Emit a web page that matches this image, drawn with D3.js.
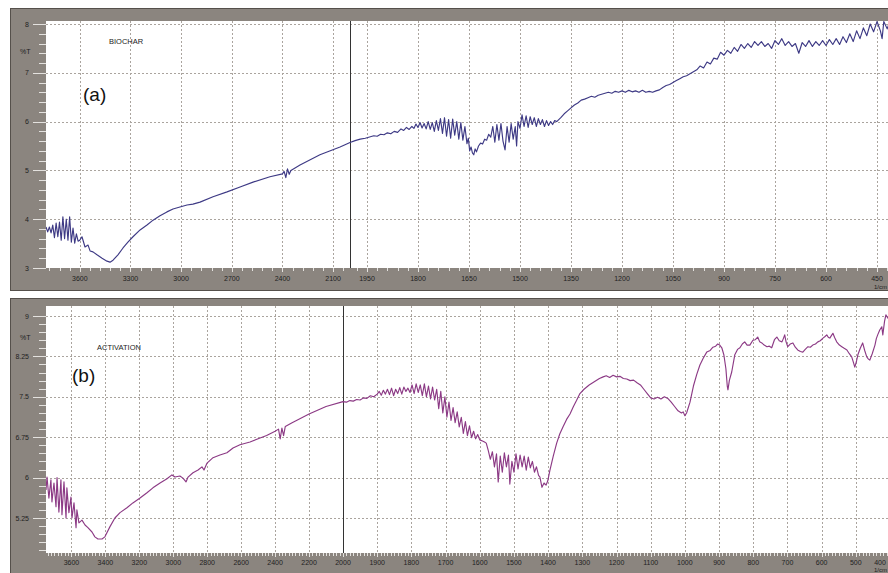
<!DOCTYPE html>
<html>
<head>
<meta charset="utf-8">
<script src="https://cdn.jsdelivr.net/npm/d3@7"></script>
<style>
  body { margin: 0; background: #fff; }
  svg { display: block; }
  text { font-family: "Liberation Sans", Arial, sans-serif; }
</style>
</head>
<body>
<svg id="chart" width="888" height="573"></svg>
<script>
// ---- FTIR spectrum (a): biochar, [wavenumber 1/cm, %T] ----
const biocharHigh = [
  [3800,3.84],[3790,3.74],[3780,3.84],[3770,3.72],[3760,3.88],[3750,3.62],[3740,3.92],[3730,3.64],
  [3720,3.94],[3710,3.57],[3700,4.05],[3690,3.60],[3680,4.00],[3670,3.57],[3660,4.05],[3650,3.53],
  [3640,3.82],[3630,3.51],[3620,3.70],[3610,3.55],[3600,3.57],[3587,3.64],[3569,3.43],[3551,3.47],
  [3539,3.35],[3522,3.33],[3498,3.27],[3468,3.20],[3439,3.14],[3421,3.12],[3403,3.16],[3374,3.27],
  [3344,3.41],[3315,3.53],[3285,3.64],[3243,3.78],[3202,3.88],[3166,3.98],[3125,4.07],[3084,4.15],
  [3048,4.21],[3007,4.25],[2965,4.29],[2930,4.31],[2888,4.35],[2811,4.46],[2728,4.56],[2651,4.66],
  [2574,4.76],[2474,4.87],[2400,4.93],[2390,4.98],[2380,4.85],[2370,5.03],[2360,4.92],[2350,5.00],
  [2296,5.11],[2178,5.32],[2059,5.48],[2000,5.57]
];
const biocharMid = [
  [1985,5.61],[1970,5.64],[1955,5.66],[1940,5.69],[1930,5.71],[1920,5.70],[1910,5.74],[1900,5.73],
  [1890,5.77],[1880,5.75],[1870,5.80],[1860,5.78],[1850,5.85],[1842,5.82],[1834,5.88],[1826,5.84],
  [1818,5.90],[1812,5.86],[1806,5.95],[1800,5.88],[1794,5.98],[1788,5.87],[1782,5.96],[1776,5.85],
  [1770,6.00],[1764,5.84],[1758,5.98],[1752,5.80],[1746,6.02],[1740,5.82],[1734,6.06],[1728,5.76],
  [1722,6.08],[1716,5.70],[1710,6.04],[1704,5.66],[1698,6.05],[1692,5.72],[1686,6.00],[1680,5.64],
  [1674,5.98],[1668,5.62],[1662,5.90],[1656,5.55],[1652,5.66],[1648,5.40],[1644,5.48],[1640,5.36],
  [1636,5.32],[1632,5.44],[1628,5.38],[1622,5.50],[1616,5.56],[1610,5.54],[1604,5.64],[1598,5.62],
  [1592,5.74],[1586,5.68],[1580,5.90],[1574,5.58],[1568,5.94],[1562,5.62],[1556,5.96],[1550,5.60],
  [1544,5.42],[1538,5.90],[1532,5.58],[1526,5.96],[1520,5.64],[1514,5.90],[1510,5.50],[1506,6.00],
  [1500,5.86],[1494,6.14],[1488,5.90],[1482,6.12],[1476,5.88],[1470,6.10],[1464,5.94],[1458,6.08],
  [1452,5.90],[1446,6.06],[1440,5.94],[1434,6.04],[1428,5.90],[1422,6.02],[1416,5.92],[1410,6.00],
  [1404,5.94],[1398,6.02],[1392,6.00]
];
const biocharLow = [
  [1380,6.08],[1370,6.16],[1360,6.22],[1350,6.28],[1340,6.34],[1330,6.38],[1320,6.44],[1310,6.46],
  [1300,6.49],[1290,6.52],[1280,6.50],[1270,6.54],[1260,6.56],[1250,6.58],[1240,6.60],[1230,6.58],
  [1220,6.62],[1210,6.60],[1200,6.63],[1190,6.60],[1180,6.64],[1170,6.61],[1160,6.63],[1150,6.60],
  [1140,6.64],[1130,6.60],[1120,6.62],[1110,6.60],[1100,6.63],[1090,6.65],[1080,6.70],[1070,6.74],
  [1060,6.76],[1050,6.80],[1040,6.84],[1030,6.88],[1020,6.92],[1010,6.94],[1000,6.98],[990,7.02],
  [980,7.06],[970,7.14],[960,7.10],[950,7.22],[940,7.18],[930,7.30],[920,7.28],[910,7.42],
  [900,7.36],[890,7.46],[880,7.40],[870,7.52],[860,7.44],[850,7.58],[840,7.50],[830,7.60],
  [820,7.52],[810,7.64],[800,7.56],[790,7.64],[780,7.54],[770,7.60],[760,7.50],[750,7.66],
  [740,7.58],[730,7.70],[720,7.56],[710,7.64],[700,7.54],[690,7.60],[680,7.40],[670,7.62],
  [660,7.54],[650,7.66],[640,7.54],[630,7.64],[620,7.56],[610,7.66],[600,7.56],[590,7.68],
  [580,7.58],[570,7.70],[560,7.58],[550,7.74],[540,7.62],[530,7.80],[520,7.64],[510,7.86],
  [500,7.70],[490,7.92],[480,7.76],[470,8.00],[460,7.84],[450,8.05],[440,7.86],[435,7.70],
  [430,8.05],[420,7.90],[410,8.10],[400,8.02]
];

// ---- FTIR spectrum (b): activated sample, [wavenumber 1/cm, %T] ----
const activationHigh = [
  [3750,5.77],[3744,6.01],[3733,5.62],[3721,5.96],[3715,5.55],[3703,5.90],[3691,5.46],[3685,6.00],
  [3674,5.36],[3662,5.96],[3656,5.31],[3644,5.92],[3632,5.25],[3627,5.81],[3615,5.35],[3603,5.64],
  [3597,5.25],[3585,5.53],[3573,5.07],[3568,5.40],[3556,5.16],[3538,5.21],[3520,5.12],[3503,5.07],
  [3479,4.99],[3462,4.90],[3444,4.86],[3420,4.86],[3403,4.90],[3373,5.09],[3344,5.25],[3314,5.35],
  [3273,5.44],[3238,5.53],[3196,5.62],[3155,5.72],[3120,5.81],[3078,5.90],[3037,5.98],[3008,6.05],
  [2990,6.01],[2961,6.03],[2943,5.99],[2925,5.92],[2913,6.01],[2884,6.09],[2854,6.14],[2831,6.20],
  [2819,6.14],[2801,6.27],[2766,6.37],[2725,6.42],[2684,6.46],[2648,6.55],[2607,6.61],[2548,6.66],
  [2500,6.72],[2450,6.78],[2400,6.86],[2380,6.90],[2370,6.72],[2360,6.92],[2350,6.78],[2340,6.95],
  [2300,7.02],[2200,7.18],[2100,7.32],[2000,7.41]
];
const activationMid = [
  [1990,7.40],[1980,7.43],[1970,7.42],[1960,7.45],[1950,7.44],[1940,7.48],[1930,7.47],[1920,7.52],
  [1910,7.50],[1900,7.55],[1894,7.60],[1888,7.53],[1882,7.62],[1876,7.55],[1870,7.64],[1864,7.54],
  [1858,7.66],[1852,7.52],[1846,7.64],[1840,7.56],[1834,7.67],[1828,7.55],[1822,7.68],[1816,7.60],
  [1810,7.66],[1804,7.58],[1798,7.72],[1792,7.56],[1786,7.74],[1780,7.58],[1774,7.72],[1768,7.52],
  [1762,7.74],[1756,7.50],[1750,7.70],[1744,7.46],[1738,7.68],[1732,7.44],[1726,7.64],[1720,7.28],
  [1714,7.60],[1708,7.20],[1702,7.50],[1696,7.12],[1690,7.40],[1684,7.06],[1678,7.30],[1672,7.02],
  [1666,7.22],[1660,6.94],[1654,7.12],[1648,6.82],[1642,7.04],[1636,6.78],[1630,6.96],[1624,6.74],
  [1618,6.86],[1612,6.72],[1606,6.80],[1600,6.70],[1592,6.68],[1586,6.66],[1581,6.64],[1575,6.50],
  [1569,6.34],[1563,6.48],[1557,6.20],[1551,6.44],[1546,5.92],[1540,6.40],[1534,6.10],[1528,6.46],
  [1522,6.20],[1516,6.42],[1512,5.88],[1506,6.30],[1500,6.10],[1494,6.44],[1488,6.16],[1482,6.42],
  [1476,6.20],[1470,6.40],[1464,6.14],[1458,6.38],[1452,6.18],[1446,6.30],[1440,6.10],[1434,6.20],
  [1428,6.04],[1424,6.01],[1418,5.82],[1412,5.90],[1406,5.86],[1401,5.94],[1395,6.13]
];
const activationLow = [
  [1385,6.40],[1375,6.64],[1366,6.81],[1356,6.95],[1346,7.08],[1336,7.18],[1326,7.32],[1317,7.43],
  [1307,7.56],[1295,7.64],[1280,7.72],[1265,7.78],[1250,7.84],[1239,7.87],[1230,7.89],[1220,7.86],
  [1210,7.90],[1200,7.87],[1190,7.88],[1180,7.84],[1170,7.83],[1160,7.80],[1150,7.81],[1140,7.76],
  [1130,7.72],[1120,7.64],[1110,7.56],[1100,7.48],[1090,7.46],[1080,7.49],[1070,7.46],[1060,7.50],
  [1050,7.47],[1040,7.40],[1030,7.32],[1020,7.24],[1010,7.20],[1005,7.22],[1000,7.15],[995,7.20],
  [985,7.40],[975,7.70],[965,7.92],[956,8.09],[946,8.22],[936,8.33],[926,8.36],[918,8.42],
  [910,8.44],[904,8.48],[898,8.46],[892,8.41],[886,8.28],[880,8.02],[876,7.70],[874,7.63],
  [870,7.80],[863,7.96],[854,8.28],[846,8.38],[839,8.41],[832,8.48],[825,8.52],[818,8.46],
  [810,8.46],[801,8.55],[794,8.56],[787,8.61],[781,8.52],[775,8.50],[768,8.46],[760,8.43],
  [753,8.44],[746,8.41],[738,8.56],[731,8.61],[724,8.54],[716,8.52],[712,8.58],[708,8.65],
  [704,8.52],[699,8.43],[692,8.48],[684,8.50],[677,8.42],[670,8.37],[662,8.34],[655,8.33],
  [648,8.38],[640,8.43],[633,8.42],[626,8.46],[618,8.48],[611,8.52],[604,8.54],[596,8.59],
  [590,8.62],[585,8.65],[580,8.60],[576,8.59],[571,8.64],[567,8.68],[562,8.60],[556,8.52],
  [548,8.46],[541,8.43],[534,8.40],[526,8.37],[519,8.30],[512,8.24],[507,8.14],[503,8.05],
  [498,8.16],[494,8.28],[487,8.40],[480,8.50],[474,8.36],[468,8.24],[463,8.20],[459,8.18],
  [452,8.30],[444,8.46],[440,8.58],[436,8.65],[430,8.74],[424,8.80],[421,8.65],[416,8.90],
  [412,9.02],[406,8.96],[400,9.05]
];

// ---- axis tick values ----
const biocharXLabels = [3600,3300,3000,2700,2400,2100,1950,1800,1650,1500,1350,1200,1050,900,750,600,450];
const biocharXMinorHigh = d3.range(3780, 2000, -60);
const biocharXMinorLow = d3.range(1980, 399, -30);
const biocharYLabels = [3,4,5,6,7,8];
const biocharYMinor = d3.range(3, 8.01, 0.2);

const activationXLabels = [3600,3400,3200,3000,2800,2600,2400,2200,2000,1900,1800,1700,1600,1500,1400,1300,1200,1100,1000,900,800,700,600,500,400];
const activationXMinorHigh = d3.range(3740, 2000, -20);
const activationXMinorLow = d3.range(2000, 399, -10);
const activationYLabels = [5.25,6,6.75,7.5,8.25,9];
const activationYMinor = d3.range(4.65, 9.01, 0.15);

const FRAME = "#8b857f";
const GRID = "#aaa49e";
const TICK = "#e4e2df";
const LABEL = "#222";
const WIDTH = 888;

const svg = d3.select("#chart");
svg.append("rect").attr("width", WIDTH).attr("height", 573).attr("fill", "#fff");

function drawPanel(p) {
  const g = svg.append("g");
  const left = 46, right = 900;

  g.append("rect")
    .attr("x", 10.5).attr("y", p.frameTop + 0.5)
    .attr("width", 900).attr("height", p.frameBottom - p.frameTop)
    .attr("fill", FRAME).attr("stroke", "#55504b");

  const x = d3.scaleLinear().domain(p.xDomain).range(p.xRange);
  const y = d3.scaleLinear().domain(p.yDomain).range(p.yRange);

  g.append("rect")
    .attr("x", left).attr("y", p.top)
    .attr("width", right - left).attr("height", p.bottom - p.top)
    .attr("fill", "#fff");

  const clipId = "clip-" + p.id;
  svg.append("clipPath").attr("id", clipId)
    .append("rect").attr("x", left).attr("y", p.top)
    .attr("width", right - left).attr("height", p.bottom - p.top);

  // grid
  const grid = g.append("g").attr("clip-path", `url(#${clipId})`)
    .attr("stroke", GRID).attr("stroke-dasharray", "2,2").attr("stroke-width", 1);
  grid.selectAll("line.v").data(p.xLabels.filter(d => d !== 2000)).join("line")
    .attr("x1", d => Math.round(x(d)) + 0.5).attr("x2", d => Math.round(x(d)) + 0.5)
    .attr("y1", p.top).attr("y2", p.bottom);
  grid.selectAll("line.h").data(p.yLabels).join("line")
    .attr("y1", d => Math.round(y(d)) + 0.5).attr("y2", d => Math.round(y(d)) + 0.5)
    .attr("x1", left).attr("x2", right);

  // 2000 1/cm scale-change marker
  g.append("line")
    .attr("x1", Math.round(x(2000)) + 0.5).attr("x2", Math.round(x(2000)) + 0.5)
    .attr("y1", p.top).attr("y2", p.bottom)
    .attr("stroke", "#333").attr("stroke-width", 1);

  // y axis
  const yAxis = g.append("g");
  yAxis.selectAll("line.minor").data(p.yMinor).join("line")
    .attr("x1", 39).attr("x2", left)
    .attr("y1", d => Math.round(y(d)) + 0.5).attr("y2", d => Math.round(y(d)) + 0.5)
    .attr("stroke", TICK);
  yAxis.selectAll("line.major").data(p.yLabels).join("line")
    .attr("x1", 33).attr("x2", left)
    .attr("y1", d => Math.round(y(d)) + 0.5).attr("y2", d => Math.round(y(d)) + 0.5)
    .attr("stroke", TICK);
  yAxis.selectAll("text").data(p.yLabels).join("text")
    .attr("x", 29).attr("y", d => y(d) + 2.5)
    .attr("text-anchor", "end").attr("font-size", 7).attr("fill", LABEL)
    .text(d => d);
  g.append("text").attr("x", 20).attr("y", p.unitY)
    .attr("font-size", 7).attr("fill", LABEL).text("%T");

  // x axis
  const xAxis = g.append("g");
  xAxis.selectAll("line.minor").data(p.xMinor).join("line")
    .attr("x1", d => Math.round(x(d)) + 0.5).attr("x2", d => Math.round(x(d)) + 0.5)
    .attr("y1", p.bottom).attr("y2", p.bottom + 3)
    .attr("stroke", TICK);
  xAxis.selectAll("line.major").data(p.xLabels).join("line")
    .attr("x1", d => Math.round(x(d)) + 0.5).attr("x2", d => Math.round(x(d)) + 0.5)
    .attr("y1", p.bottom).attr("y2", p.bottom + 4)
    .attr("stroke", TICK);
  // labels that would run past the right edge are pulled in to stay whole
  xAxis.selectAll("text").data(p.xLabels).join("text")
    .attr("x", d => Math.min(x(d), WIDTH - 1 - 7))
    .attr("y", p.bottom + p.labelDy)
    .attr("text-anchor", "middle").attr("font-size", 7).attr("fill", LABEL)
    .text(d => d);
  g.append("text").attr("x", WIDTH - 1).attr("y", p.bottom + p.unitDy)
    .attr("text-anchor", "end")
    .attr("font-size", 6).attr("fill", LABEL).text("1/cm");

  // spectrum
  const line = d3.line().x(d => x(d[0])).y(d => y(d[1]));
  g.append("path").datum(p.data)
    .attr("clip-path", `url(#${clipId})`)
    .attr("fill", "none").attr("stroke", p.color)
    .attr("stroke-width", 1.15).attr("stroke-linejoin", "round")
    .attr("d", line);

  // annotations
  g.append("text").attr("x", p.nameX).attr("y", p.nameY)
    .attr("font-size", 7.5).attr("fill", LABEL).text(p.name);
  g.append("text").attr("x", p.tagX).attr("y", p.tagY)
    .attr("font-size", 19).attr("fill", "#111").text(p.tag);
}

drawPanel({
  id: "a", frameTop: 8, frameBottom: 290, top: 21, bottom: 268,
  xDomain: [3800, 2000, 400], xRange: [46, 350, 894],
  yDomain: [3, 8], yRange: [268, 24],
  xLabels: biocharXLabels, xMinor: biocharXMinorHigh.concat(biocharXMinorLow),
  yLabels: biocharYLabels, yMinor: biocharYMinor, labelDy: 13, unitDy: 20.5,
  data: biocharHigh.concat(biocharMid, biocharLow),
  color: "#3e3a85", name: "BIOCHAR", nameX: 109, nameY: 44,
  tag: "(a)", tagX: 83, tagY: 101, unitY: 54
});

drawPanel({
  id: "b", frameTop: 298, frameBottom: 600, top: 306, bottom: 553,
  xDomain: [3750, 2000, 400], xRange: [46, 343, 890],
  yDomain: [5.25, 9], yRange: [518, 316],
  xLabels: activationXLabels, xMinor: activationXMinorHigh.concat(activationXMinorLow),
  yLabels: activationYLabels, yMinor: activationYMinor, labelDy: 11.5, unitDy: 18.5,
  data: activationHigh.concat(activationMid, activationLow),
  color: "#8c3a85", name: "ACTIVATION", nameX: 97, nameY: 350,
  tag: "(b)", tagX: 72, tagY: 382, unitY: 340
});
</script>
</body>
</html>
